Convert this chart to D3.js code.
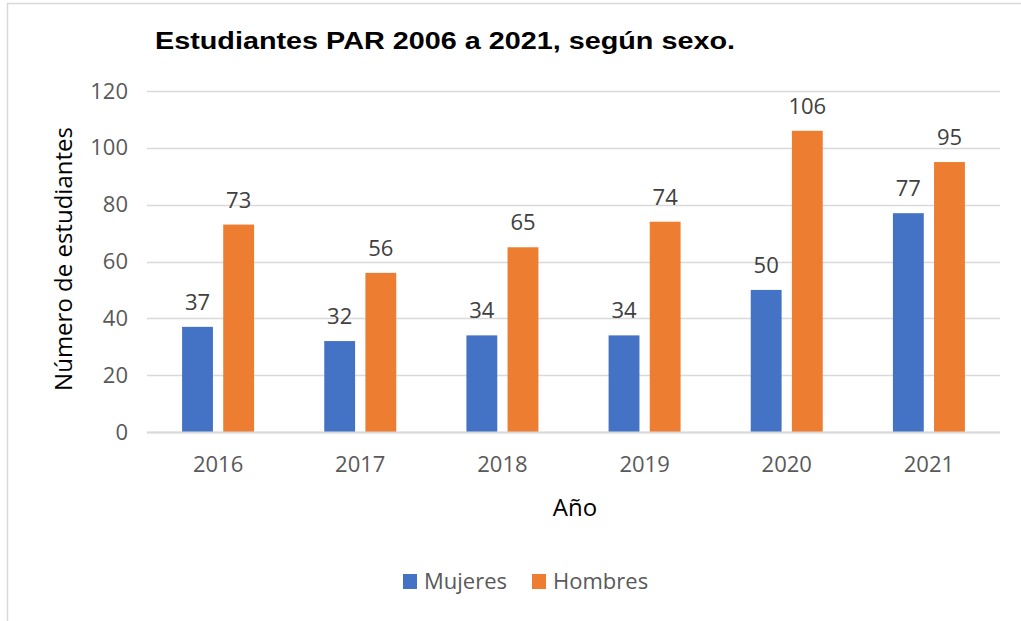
<!DOCTYPE html>
<html>
<head>
<meta charset="utf-8">
<script src="https://cdn.jsdelivr.net/npm/d3@7"></script>
<style>
  body { margin: 0; background: #fff; }
  svg { display: block; }
</style>
</head>
<body>
<div id="chart"></div>
<script>
// data
var years = ["2016", "2017", "2018", "2019", "2020", "2021"];
var mujeres = [37, 32, 34, 34, 50, 77];
var hombres = [73, 56, 65, 74, 106, 95];
var seriesNames = ["Mujeres", "Hombres"];
var yTicks = [0, 20, 40, 60, 80, 100, 120];

var W = 1021, H = 621;
var margin = {left: 147, right: 21, top: 91, bottom: 189};
var colors = ["#4472C4", "#ED7D31"];
var font = "'Open Sans', 'Noto Sans', sans-serif";

var svg = d3.select("#chart").append("svg")
    .attr("width", W)
    .attr("height", H);

// chart frame (only left and top edges show)
svg.append("path")
    .attr("d", "M7.5," + H + "V3.5H" + W)
    .attr("fill", "none")
    .attr("stroke", "#d9d9d9")
    .attr("stroke-width", 1.5);

var x = d3.scaleBand()
    .domain(years)
    .range([margin.left, W - margin.right]);

var x1 = d3.scaleBand()
    .domain(seriesNames)
    .range([0, 72])
    .paddingInner(0.25);

var y = d3.scaleLinear()
    .domain([0, 120])
    .range([H - margin.bottom, margin.top]);

// gridlines
svg.append("g")
    .selectAll("line")
    .data(yTicks)
    .join("line")
    .attr("x1", margin.left)
    .attr("x2", W - margin.right)
    .attr("y1", function(d) { return Math.round(y(d)) + 0.5; })
    .attr("y2", function(d) { return Math.round(y(d)) + 0.5; })
    .attr("stroke", "#d9d9d9")
    .attr("stroke-width", 1.5);

// y axis labels
var yAxis = d3.axisLeft(y).tickValues(yTicks).tickSize(0).tickPadding(0);
var gy = svg.append("g")
    .attr("transform", "translate(128,0)")
    .call(yAxis);
gy.select(".domain").remove();
gy.selectAll("text")
    .attr("fill", "#595959")
    .style("font-family", font)
    .style("font-size", "22px");

// x axis labels
var xAxis = d3.axisBottom(x).tickSize(0).tickPadding(0);
var gx = svg.append("g")
    .attr("transform", "translate(0," + (H - margin.bottom + 24) + ")")
    .call(xAxis);
gx.select(".domain").remove();
gx.selectAll("text")
    .attr("fill", "#595959")
    .style("font-family", font)
    .style("font-size", "22px");

// bars
var table = years.map(function(yr, i) {
    return {year: yr, values: [mujeres[i], hombres[i]]};
});

var groups = svg.append("g")
    .selectAll("g")
    .data(table)
    .join("g")
    .attr("transform", function(d) {
        return "translate(" + (x(d.year) + (x.bandwidth() - 72) / 2) + ",0)";
    });

groups.selectAll("rect")
    .data(function(d) { return d.values.map(function(v, j) { return {name: seriesNames[j], value: v, idx: j}; }); })
    .join("rect")
    .attr("x", function(d) { return x1(d.name); })
    .attr("y", function(d) { return y(d.value); })
    .attr("width", x1.bandwidth())
    .attr("height", function(d) { return y(0) - y(d.value); })
    .attr("fill", function(d) { return colors[d.idx]; });

// data labels
groups.selectAll("text")
    .data(function(d) { return d.values.map(function(v, j) { return {name: seriesNames[j], value: v}; }); })
    .join("text")
    .attr("x", function(d) { return x1(d.name) + x1.bandwidth() / 2; })
    .attr("y", function(d) { return y(d.value) - 17; })
    .attr("text-anchor", "middle")
    .attr("fill", "#404040")
    .style("font-family", font)
    .style("font-size", "22px")
    .text(function(d) { return d.value; });

// axis base line
svg.append("line")
    .attr("x1", margin.left)
    .attr("x2", W - margin.right)
    .attr("y1", Math.round(y(0)) + 0.5)
    .attr("y2", Math.round(y(0)) + 0.5)
    .attr("stroke", "#d9d9d9")
    .attr("stroke-width", 2);

// title
svg.append("text")
    .attr("x", 155)
    .attr("y", 49)
    .attr("fill", "#000")
    .style("font-family", "'Liberation Sans', Arial, sans-serif")
    .style("font-weight", "bold")
    .style("font-size", "23px")
    .attr("textLength", 580)
    .attr("lengthAdjust", "spacingAndGlyphs")
    .text("Estudiantes PAR 2006 a 2021, según sexo.");

// axis titles
svg.append("text")
    .attr("transform", "translate(72,259) rotate(-90)")
    .attr("text-anchor", "middle")
    .attr("fill", "#000")
    .style("font-family", font)
    .style("font-size", "24px")
    .text("Número de estudiantes");

svg.append("text")
    .attr("x", 575)
    .attr("y", 516)
    .attr("text-anchor", "middle")
    .attr("fill", "#000")
    .style("font-family", font)
    .style("font-size", "24px")
    .text("Año");

// legend
var legend = svg.append("g")
    .attr("transform", "translate(403,581)");
var legX = [0, 129];
seriesNames.forEach(function(name, i) {
    var g = legend.append("g").attr("transform", "translate(" + legX[i] + ",0)");
    g.append("rect")
        .attr("x", 0)
        .attr("y", -7)
        .attr("width", 14)
        .attr("height", 15)
        .attr("fill", colors[i]);
    g.append("text")
        .attr("x", 21)
        .attr("y", 0)
        .attr("dy", "0.36em")
        .attr("fill", "#595959")
        .style("font-family", font)
        .style("font-size", "22px")
        .text(name);
});
</script>
</body>
</html>
